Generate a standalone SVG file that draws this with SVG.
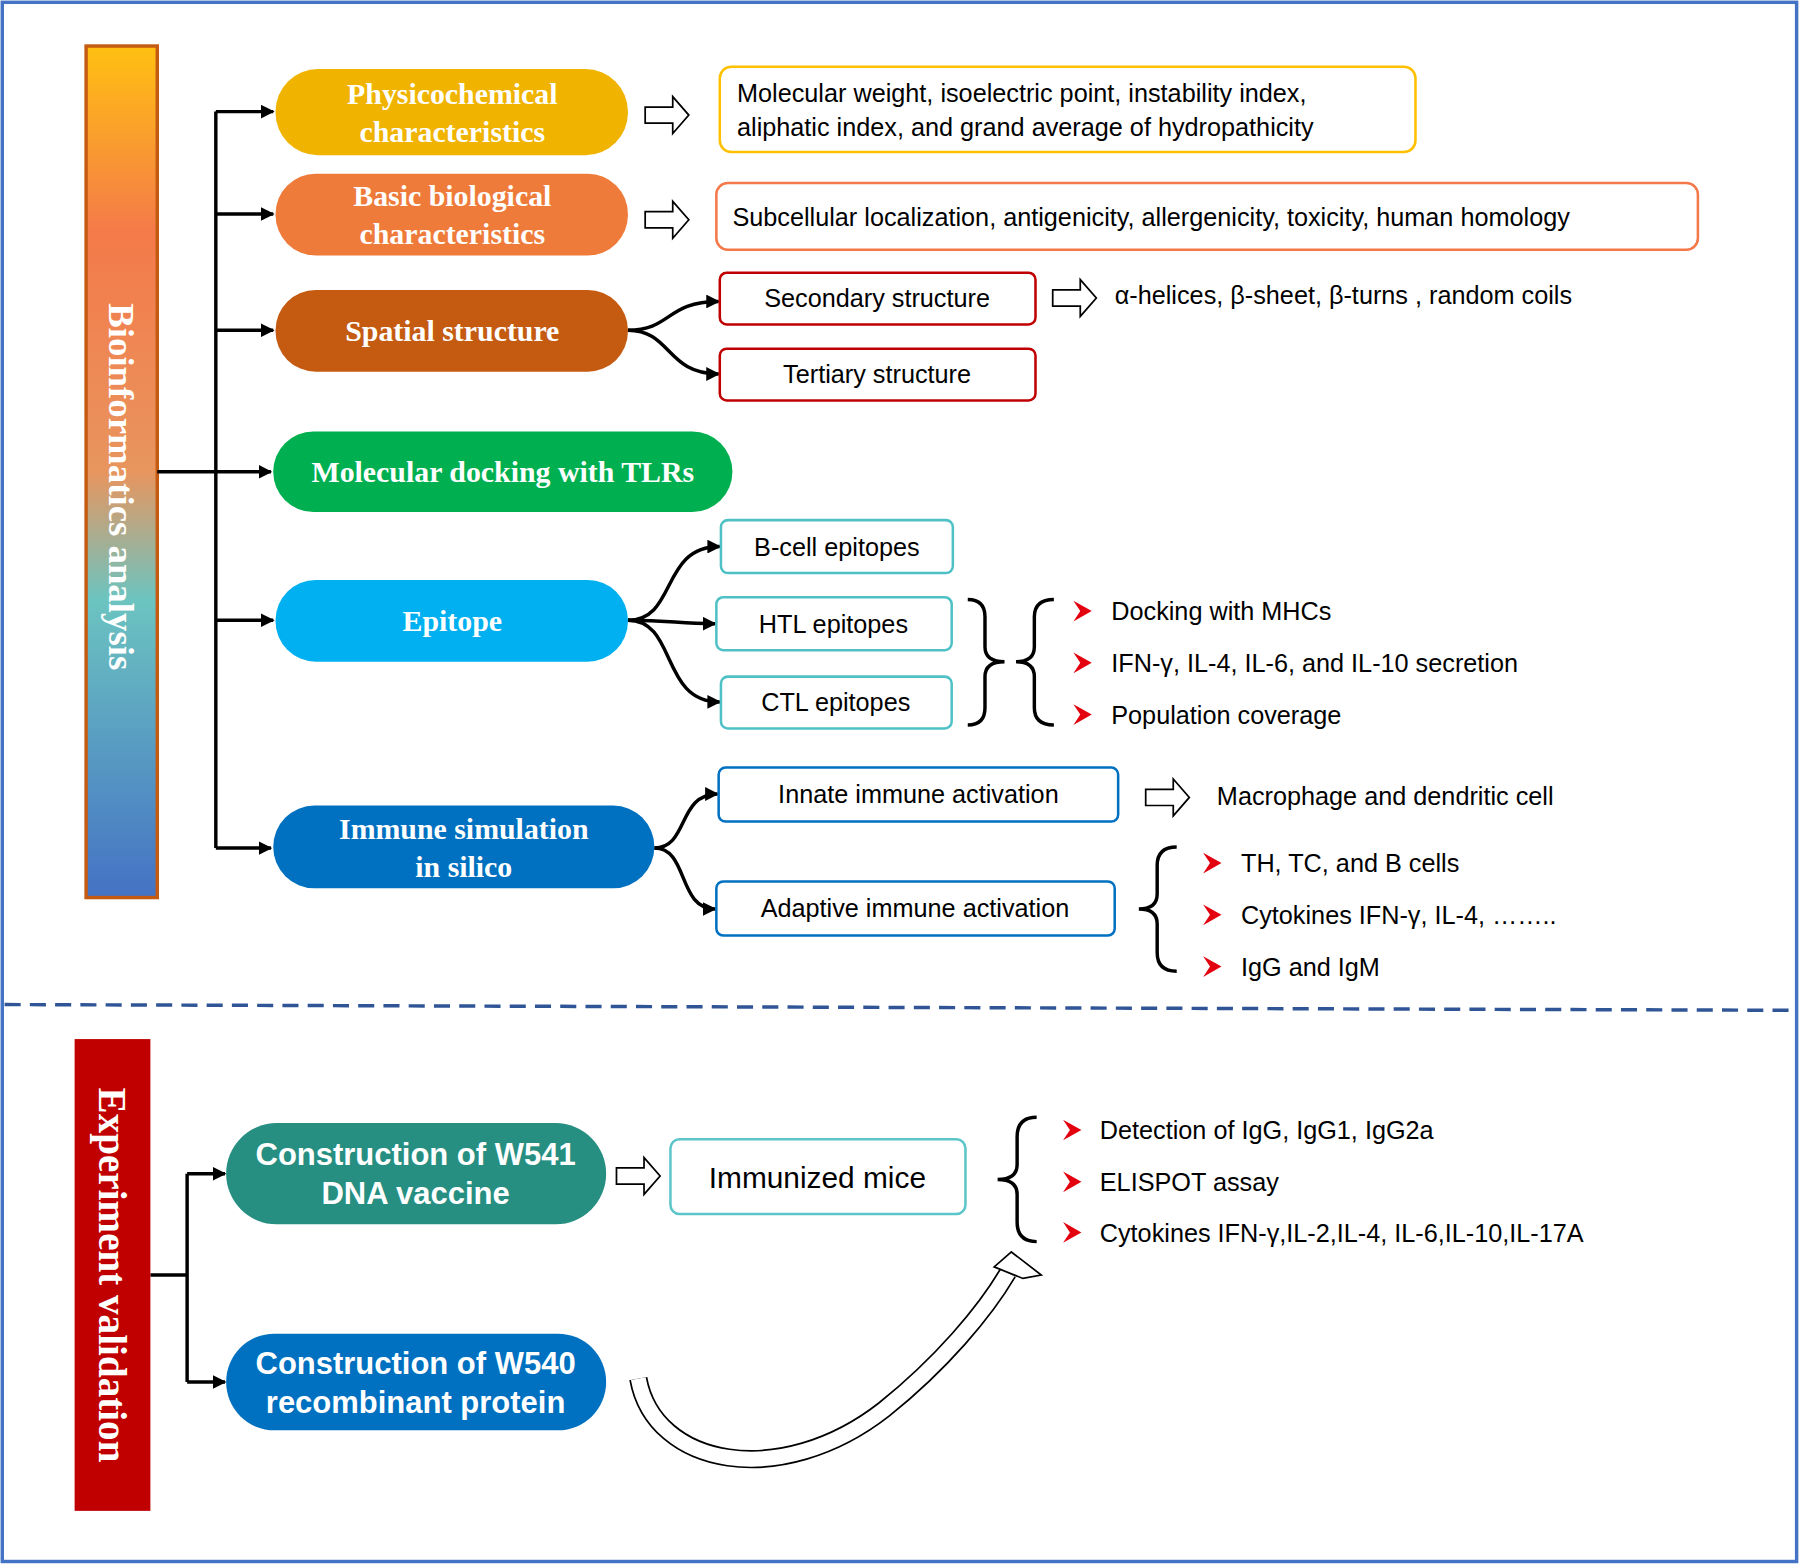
<svg xmlns="http://www.w3.org/2000/svg" width="1800" height="1565" viewBox="0 0 1800 1565">
<defs>
<linearGradient id="bio" x1="0" y1="0" x2="0" y2="1">
<stop offset="0" stop-color="#FFC011"/><stop offset="0.22" stop-color="#F47A4A"/><stop offset="0.5" stop-color="#E8955E"/><stop offset="0.65" stop-color="#6CC4C0"/><stop offset="1" stop-color="#4472C4"/>
</linearGradient>
<marker id="ah" viewBox="0 0 10 10" refX="9" refY="5" markerWidth="4" markerHeight="4" orient="auto"><path d="M0,0 L10,5 L0,10 z" fill="#000"/></marker>
<style>
.pill{font-family:"Liberation Serif",serif;font-weight:bold;font-size:26px;fill:#fff;text-anchor:middle}
.pills{font-family:"Liberation Sans",Arial,sans-serif;font-weight:bold;font-size:27px;fill:#fff;text-anchor:middle}
.t{font-family:"Liberation Sans",Arial,sans-serif;font-size:22px;fill:#000}
.tc{font-family:"Liberation Sans",Arial,sans-serif;font-size:22px;fill:#000;text-anchor:middle}
.box{fill:#fff;stroke-width:2.2}
.ln{fill:none;stroke:#000;stroke-width:3}
.hol{fill:#fff;stroke:#000;stroke-width:1.5}
.bul{fill:#E3000F}
.br{fill:none;stroke:#000;stroke-width:3}
</style>
</defs>
<g transform="scale(1.148,1.1507)">
<rect x="2" y="2" width="1563" height="1355" fill="#fff" stroke="#4472C4" stroke-width="3"/>
<line x1="4" y1="873" x2="1563" y2="878" stroke="#2F5597" stroke-width="3" stroke-dasharray="14 8"/>

<g id="bioinfo-bar">
<rect x="75" y="40" width="62" height="740" fill="url(#bio)" stroke="#C55A11" stroke-width="3"/>
<text transform="translate(106,423) rotate(90)" text-anchor="middle" dominant-baseline="central" font-family="Liberation Serif,serif" font-weight="bold" font-size="32" fill="#fff">Bioinformatics analysis</text>
</g>

<g id="connectors">
<line class="ln" x1="188" y1="97" x2="188" y2="737"/>
<line class="ln" x1="137" y1="410" x2="188" y2="410"/>
<line class="ln" x1="188" y1="97" x2="238" y2="97" marker-end="url(#ah)"/>
<line class="ln" x1="188" y1="186" x2="238" y2="186" marker-end="url(#ah)"/>
<line class="ln" x1="188" y1="287" x2="238" y2="287" marker-end="url(#ah)"/>
<line class="ln" x1="188" y1="410" x2="236" y2="410" marker-end="url(#ah)"/>
<line class="ln" x1="188" y1="539" x2="238" y2="539" marker-end="url(#ah)"/>
<line class="ln" x1="188" y1="737" x2="236" y2="737" marker-end="url(#ah)"/>
<path class="ln" d="M547,287 C585,287 580,262 626,262" marker-end="url(#ah)"/>
<path class="ln" d="M547,287 C585,287 580,325 626,325" marker-end="url(#ah)"/>
<path class="ln" d="M547,539 C590,539 575,475 627,475" marker-end="url(#ah)"/>
<path class="ln" d="M547,539 C585,539 590,542 623,542" marker-end="url(#ah)"/>
<path class="ln" d="M547,539 C590,539 575,610 627,610" marker-end="url(#ah)"/>
<path class="ln" d="M570,737 C600,737 590,690 625,690" marker-end="url(#ah)"/>
<path class="ln" d="M570,737 C600,737 590,790 623,790" marker-end="url(#ah)"/>
<line class="ln" x1="131" y1="1108" x2="163" y2="1108"/>
<line class="ln" x1="163" y1="1020" x2="163" y2="1201"/>
<line class="ln" x1="163" y1="1020" x2="196" y2="1020" marker-end="url(#ah)"/>
<line class="ln" x1="163" y1="1201" x2="196" y2="1201" marker-end="url(#ah)"/>
<polygon class="hol" points="562,93 586,93 586,84 600,100 586,116 586,107 562,107"/>
<polygon class="hol" points="562,184 586,184 586,175 600,191 586,207 586,198 562,198"/>
<polygon class="hol" points="917,252 941,252 941,243 955,259 941,275 941,266 917,266"/>
<polygon class="hol" points="998,686 1022,686 1022,677 1036,693 1022,709 1022,700 998,700"/>
<polygon class="hol" points="537,1015 561,1015 561,1006 575,1022 561,1038 561,1029 537,1029"/>
<path d="M556,1198 C570,1275 680,1295 770,1225 C820,1185 858,1140 878,1106" fill="none" stroke="#000" stroke-width="16"/>
<path d="M556,1198 C570,1275 680,1295 770,1225 C820,1185 858,1140 878,1106" fill="none" stroke="#fff" stroke-width="13"/>
<polygon class="hol" points="881,1088 907,1108 891,1111 866,1101"/>
</g>

<g id="physico"><rect x="240" y="60" width="307" height="75" rx="37" fill="#F0B400"/><text class="pill" x="394" y="90">Physicochemical</text><text class="pill" x="394" y="123">characteristics</text></g>
<g id="basic"><rect x="240" y="151" width="307" height="71" rx="35" fill="#EF7B3A"/><text class="pill" x="394" y="179">Basic biological</text><text class="pill" x="394" y="212">characteristics</text></g>
<g id="spatial"><rect x="240" y="252" width="307" height="71" rx="35" fill="#C55A11"/><text class="pill" x="394" y="296">Spatial structure</text></g>
<g id="docking"><rect x="238" y="375" width="400" height="70" rx="35" fill="#00B050"/><text class="pill" x="438" y="419">Molecular docking with TLRs</text></g>
<g id="epitope"><rect x="240" y="504" width="307" height="71" rx="35" fill="#00B0F0"/><text class="pill" x="394" y="548">Epitope</text></g>
<g id="immune"><rect x="238" y="700" width="332" height="72" rx="36" fill="#0070C0"/><text class="pill" x="404" y="729">Immune simulation</text><text class="pill" x="404" y="762">in silico</text></g>

<g id="phys-box"><rect class="box" x="627" y="58" width="606" height="74" rx="10" stroke="#FFC000"/><text class="t" x="642" y="89">Molecular weight, isoelectric point, instability index,</text><text class="t" x="642" y="118">aliphatic index, and grand average of hydropathicity</text></g>
<g id="basic-box"><rect class="box" x="624" y="159" width="855" height="58" rx="10" stroke="#F4784A"/><text class="t" x="638" y="196">Subcellular localization, antigenicity, allergenicity, toxicity, human homology</text></g>
<g id="secondary"><rect class="box" x="627" y="237" width="275" height="45" rx="6" stroke="#C00000"/><text class="tc" x="764" y="267">Secondary structure</text></g>
<g id="tertiary"><rect class="box" x="627" y="303" width="275" height="45" rx="6" stroke="#C00000"/><text class="tc" x="764" y="333">Tertiary structure</text></g>
<g id="secondary-out"><text class="t" x="971" y="264">α-helices, β-sheet, β-turns , random coils</text></g>

<g id="bcell"><rect class="box" x="628" y="452" width="202" height="46" rx="6" stroke="#4FC1C6"/><text class="tc" x="729" y="483">B-cell epitopes</text></g>
<g id="htl"><rect class="box" x="624" y="519" width="205" height="46" rx="6" stroke="#4FC1C6"/><text class="tc" x="726" y="550">HTL epitopes</text></g>
<g id="ctl"><rect class="box" x="628" y="588" width="201" height="45" rx="6" stroke="#4FC1C6"/><text class="tc" x="728" y="618">CTL epitopes</text></g>
<g id="epi-out">
<path class="br" d="M843,521 Q858,521 858,536 L858,562 Q858,575 875,575 Q858,575 858,588 L858,615 Q858,630 843,630"/>
<path class="br" d="M918,521 Q901,521 901,536 L901,562 Q901,575 885,575 Q901,575 901,588 L901,615 Q901,630 918,630"/>
<polygon class="bul" points="935,522 951,531 935,540 941,531"/>
<polygon class="bul" points="935,567 951,576 935,585 941,576"/>
<polygon class="bul" points="935,612 951,621 935,630 941,621"/>
<text class="t" x="968" y="539">Docking  with MHCs</text>
<text class="t" x="968" y="584">IFN-γ, IL-4, IL-6, and IL-10 secretion</text>
<text class="t" x="968" y="629">Population coverage</text>
</g>

<g id="innate"><rect class="box" x="626" y="667" width="348" height="47" rx="6" stroke="#0070C0"/><text class="tc" x="800" y="698">Innate immune activation</text></g>
<g id="adaptive"><rect class="box" x="624" y="766" width="347" height="47" rx="6" stroke="#0070C0"/><text class="tc" x="797" y="797">Adaptive immune activation</text></g>
<g id="immune-out">
<text class="t" x="1060" y="700">Macrophage and dendritic cell</text>
<path class="br" d="M1025,736 Q1008,736 1008,752 L1008,777 Q1008,790 992,790 Q1008,790 1008,803 L1008,828 Q1008,844 1025,844"/>
<polygon class="bul" points="1048,741 1064,750 1048,759 1054,750"/>
<polygon class="bul" points="1048,786 1064,795 1048,804 1054,795"/>
<polygon class="bul" points="1048,831 1064,840 1048,849 1054,840"/>
<text class="t" x="1081" y="758">TH, TC, and B cells</text>
<text class="t" x="1081" y="803">Cytokines IFN-γ, IL-4, ……..</text>
<text class="t" x="1081" y="848">IgG and IgM</text>
</g>

<g id="exp-bar">
<rect x="65" y="903" width="66" height="410" fill="#C00000"/>
<text transform="translate(98,1108) rotate(90)" text-anchor="middle" dominant-baseline="central" font-family="Liberation Serif,serif" font-weight="bold" font-size="34" fill="#fff">Experiment validation</text>
</g>
<g id="w541"><rect x="197" y="976" width="331" height="88" rx="44" fill="#268F82"/><text class="pills" x="362" y="1012">Construction of W541</text><text class="pills" x="362" y="1046">DNA vaccine</text></g>
<g id="w540"><rect x="197" y="1159" width="331" height="84" rx="42" fill="#0070C0"/><text class="pills" x="362" y="1194">Construction of W540</text><text class="pills" x="362" y="1228">recombinant protein</text></g>
<g id="mice"><rect class="box" x="584" y="990" width="257" height="65" rx="8" stroke="#5BC5C9"/><text x="712" y="1032" text-anchor="middle" font-family="Liberation Sans,Arial,sans-serif" font-size="26">Immunized mice</text></g>
<g id="mice-out">
<path class="br" d="M903,971 Q886,971 886,988 L886,1012 Q886,1025 869,1025 Q886,1025 886,1038 L886,1062 Q886,1079 903,1079"/>
<polygon class="bul" points="926,973 942,982 926,991 932,982"/>
<polygon class="bul" points="926,1018 942,1027 926,1036 932,1027"/>
<polygon class="bul" points="926,1062 942,1071 926,1080 932,1071"/>
<text class="t" x="958" y="990">Detection of IgG, IgG1, IgG2a</text>
<text class="t" x="958" y="1035">ELISPOT assay</text>
<text class="t" x="958" y="1079">Cytokines IFN-γ,IL-2,IL-4, IL-6,IL-10,IL-17A</text>
</g>
</g>
</svg>
